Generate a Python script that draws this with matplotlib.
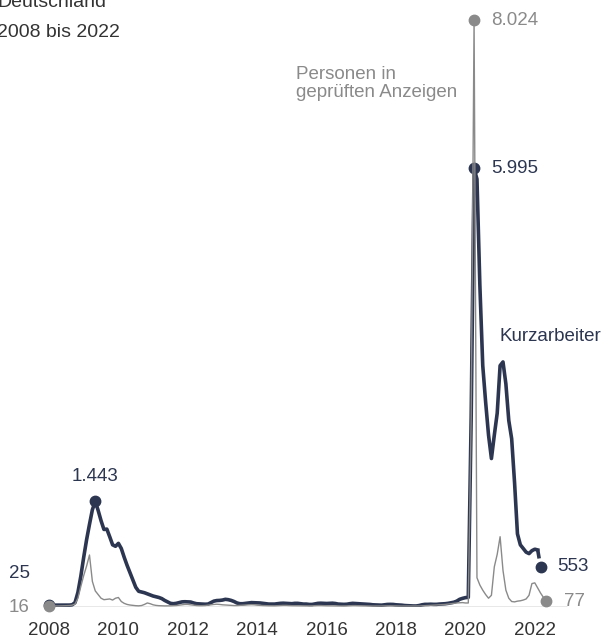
import numpy as np
import matplotlib.pyplot as plt

plt.rcParams['font.family'] = ['Liberation Sans', 'DejaVu Sans']

# Kurzarbeiter (Tsd.), monatlich ab Jan 2008 bis Mär 2022
kurzarbeiter = [
    25, 25, 24, 24, 25, 25, 25, 26, 30, 60, 200, 420,             # 2008
    680, 920, 1130, 1330, 1443, 1320, 1180, 1060, 1065, 960, 850, 830,  # 2009
    870, 800, 680, 570, 470, 370, 270, 215, 205, 195, 180, 165,   # 2010
    150, 140, 130, 115, 90, 70, 50, 45, 50, 60, 70, 72,           # 2011
    70, 68, 55, 45, 42, 40, 38, 40, 60, 80, 88, 90,               # 2012
    95, 105, 100, 90, 75, 55, 45, 45, 50, 55, 60, 58,             # 2013
    55, 55, 50, 45, 40, 40, 40, 45, 50, 52, 50, 48,               # 2014
    45, 50, 50, 45, 40, 40, 35, 35, 42, 50, 52, 50,               # 2015
    48, 50, 52, 48, 40, 38, 36, 38, 45, 50, 48, 45,               # 2016
    42, 40, 38, 35, 30, 28, 25, 25, 30, 35, 36, 35,               # 2017
    30, 28, 25, 20, 18, 16, 14, 14, 20, 30, 36, 36,               # 2018
    38, 36, 36, 40, 42, 45, 50, 58, 65, 80, 105, 118,             # 2019
    128, 132, 2600, 5995, 5850, 4400, 3300, 2800, 2350, 2030, 2350, 2650,  # 2020
    3300, 3350, 3050, 2550, 2300, 1700, 1000, 850, 800, 750, 730, 770,     # 2021
    790, 780, 553,                                                # 2022
]

# Personen in geprüften Anzeigen (Tsd.), Jan 2008 bis Mai 2022
anzeigen = [
    16, 15, 14, 14, 15, 16, 18, 20, 25, 40, 120, 280,             # 2008
    430, 560, 711, 350, 220, 170, 120, 100, 105, 110, 95, 120,    # 2009
    130, 75, 50, 35, 27, 22, 18, 16, 20, 35, 55, 45,              # 2010
    30, 22, 18, 16, 15, 15, 16, 18, 20, 25, 30, 35,               # 2011
    35, 30, 25, 20, 18, 18, 20, 25, 30, 35, 38, 35,               # 2012
    30, 28, 25, 22, 20, 20, 22, 25, 28, 30, 32, 30,               # 2013
    25, 22, 20, 18, 17, 16, 16, 18, 20, 22, 22, 20,               # 2014
    18, 18, 17, 16, 15, 15, 15, 16, 18, 20, 20, 18,               # 2015
    17, 17, 16, 15, 15, 14, 14, 15, 17, 19, 19, 17,               # 2016
    16, 15, 14, 14, 13, 13, 13, 14, 15, 16, 16, 15,               # 2017
    14, 14, 13, 13, 13, 12, 12, 13, 14, 16, 18, 20,               # 2018
    22, 25, 28, 30, 32, 35, 40, 45, 50, 55, 58, 60,               # 2019
    55, 55, 2600, 8024, 400, 300, 230, 170, 120, 160, 550, 720,   # 2020
    961, 500, 230, 120, 75, 70, 80, 85, 95, 110, 160, 320,        # 2021
    330, 260, 190, 130, 77,                                       # 2022
]

jahre = [2008, 2010, 2012, 2014, 2016, 2018, 2020, 2022]

DUNKEL = '#2c3651'
GRAU = '#8a8a8a'
TEXT = '#333333'
FS = 13.5

t_k = 2008 + np.arange(len(kurzarbeiter)) / 12
t_a = 2008 + np.arange(len(anzeigen)) / 12
k = np.array(kurzarbeiter, dtype=float)
a = np.array(anzeigen, dtype=float)

fig = plt.figure(figsize=(6.06, 6.38), dpi=100)
ax = fig.add_axes([20 / 606, 31 / 638, 580 / 606, 597 / 638])
ax.set_xlim(2008 - 29 / 34.7, 2008 + 551 / 34.7)
ax.set_ylim(0, 597 / 0.07315)

# Achsenlinie
ax.hlines(0, 2008, 2022.93, color='#4d4d4d', lw=0.9, zorder=1)

# Kurzarbeiter (letztes Stück gestrichelt)
ax.plot(t_k[:-1], k[:-1], color=DUNKEL, lw=2.6, solid_joinstyle='round', zorder=2)
ax.plot(t_k[-2:], k[-2:], color=DUNKEL, lw=2.6, ls=(0, (2.4, 6)), zorder=2)
i_max09 = int(np.argmax(k[:36]))
i_max20 = int(np.argmax(k))
ax.plot(t_k[[0, i_max09, i_max20, -1]], k[[0, i_max09, i_max20, -1]], 'o',
        color=DUNKEL, ms=7.5, zorder=2.5, clip_on=False)

# Anzeigen
ax.plot(t_a, a, color=GRAU, lw=1.0, zorder=3)
i_amax = int(np.argmax(a))
ax.plot(t_a[[0, i_amax, -1]], a[[0, i_amax, -1]], 'o', color=GRAU, ms=7.5,
        zorder=3.5, clip_on=False)

def fmt(v):
    return f'{v:,.0f}'.replace(',', '.')

lab = dict(fontsize=FS, textcoords='offset points', va='center')
ax.annotate(fmt(a[i_amax]), (t_a[i_amax], a[i_amax]), xytext=(12, 0), color=GRAU, ha='left', **lab)
ax.annotate(fmt(k[i_max20]), (t_k[i_max20], k[i_max20]), xytext=(12, 0), color=DUNKEL, ha='left', **lab)
ax.annotate(fmt(k[i_max09]), (t_k[i_max09], k[i_max09]), xytext=(0, 18), color=DUNKEL, ha='center', **lab)
ax.annotate(fmt(k[-1]), (t_k[-1], k[-1]), xytext=(12, 0), color=DUNKEL, ha='left', **lab)
ax.annotate(fmt(a[-1]), (t_a[-1], a[-1]), xytext=(13, 0), color=GRAU, ha='left', **lab)
ax.annotate(fmt(k[0]), (t_k[0], k[0]), xytext=(-14, 23), color=DUNKEL, ha='right', **lab)
ax.annotate(fmt(a[0]), (t_a[0], a[0]), xytext=(-14, -1), color=GRAU, ha='right', **lab)

# Serienbeschriftungen
ax.text(2020.97, 3695, 'Kurzarbeiter', color=DUNKEL, fontsize=FS, va='center', ha='left')
ax.text(2015.12, 7160, 'Personen in\ngeprüften Anzeigen', color=GRAU, fontsize=FS,
        va='center', ha='left', linespacing=1.1)

# Titel (oben abgeschnitten wie im Original)
fig.text(-3 / 606, 1 - 7 / 638, 'Deutschland', fontsize=14, color=TEXT, va='baseline')
fig.text(-3 / 606, 1 - 37 / 638, '2008 bis 2022', fontsize=14, color=TEXT, va='baseline')

ax.set_xticks(jahre)
ax.set_xticklabels([str(j) for j in jahre])
ax.tick_params(axis='x', length=0, pad=11, labelsize=FS, labelcolor=TEXT)
ax.set_yticks([])
for s in ax.spines.values():
    s.set_visible(False)

fig.savefig('out.png', dpi=100)
